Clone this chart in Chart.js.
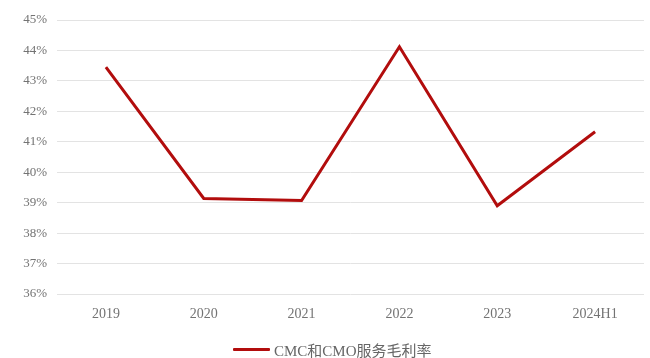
<!DOCTYPE html>
<html lang="zh">
<head>
<meta charset="UTF-8">
<title>CMC和CMO服务毛利率</title>
<script src="https://cdn.jsdelivr.net/npm/chart.js@4.4.1/dist/chart.umd.min.js"></script>
<style>
  html, body { margin: 0; padding: 0; background: #fff; }
  .wrap { position: relative; width: 650px; height: 358px; }
  .legend { position: absolute; left: 233px; top: 339px; display: flex; align-items: center; gap: 4px;
            font-family: 'Liberation Serif', 'Noto Sans CJK SC', serif; font-size: 15px; color: #666; }
  .legend-line { width: 37px; height: 3px; background: #B20D0D; border-radius: 1px; }
</style>
</head>
<body>
<div class="wrap">
  <canvas id="marginChart"></canvas>
  <div class="legend" id="legend"></div>
</div>
<script>
// Data
const years = ['2019', '2020', '2021', '2022', '2023', '2024H1'];
const grossMargin = [43.45, 39.14, 39.07, 44.12, 38.9, 41.33];
const seriesName = 'CMC和CMO服务毛利率';
const yMin = 36, yMax = 45;

const lineRed = '#B20D0D';
const tickGray = '#737373';
const fontFamily = "'Liberation Serif', 'Times New Roman', 'Noto Sans CJK SC', serif";

new Chart(document.getElementById('marginChart'), {
  type: 'line',
  data: {
    labels: years,
    datasets: [{
      label: seriesName,
      data: grossMargin,
      borderColor: lineRed,
      backgroundColor: lineRed,
      borderWidth: 3,
      pointRadius: 0,
      tension: 0
    }]
  },
  options: {
    responsive: true, maintainAspectRatio: false, animation: false,
    layout: { padding: { top: 20, right: 6, left: 0, bottom: 34 } },
    plugins: {
      tooltip: { enabled: false },
      legend: { display: false }
    },
    scales: {
      x: {
        offset: true,
        grid: { display: false },
        border: { display: false },
        ticks: { color: tickGray, font: { family: fontFamily, size: 14 }, padding: 4 },
        afterFit: s => { s.height = 30; }
      },
      y: {
        min: yMin, max: yMax,
        grid: { color: '#e3e3e3', lineWidth: 1, drawTicks: false },
        border: { display: false },
        ticks: {
          stepSize: 1, color: tickGray, padding: 10,
          font: { family: fontFamily, size: 13 },
          callback: v => v + '%'
        },
        afterFit: s => { s.width = 57; }
      }
    }
  }
});

// Legend drawn as page text under the plot
document.getElementById('legend').innerHTML =
  `<span class="legend-line"></span><span>${seriesName}</span>`;
</script>
</body>
</html>
